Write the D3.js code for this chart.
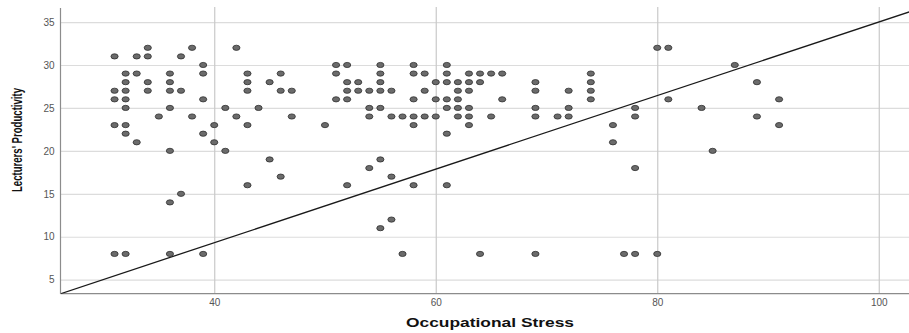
<!DOCTYPE html>
<html>
<head>
<meta charset="utf-8">
<script src="https://cdn.jsdelivr.net/npm/d3@7"></script>
<style>
  html, body { margin: 0; padding: 0; background: #ffffff; }
  svg { display: block; }
</style>
</head>
<body>
<svg id="chart" width="909" height="333"></svg>
<script>
// ---- data ----
const stress = [
  34,38,42,80,81,
  31,33,34,37,
  39,51,52,55,58,61,87,
  32,33,36,39,43,46,51,55,58,59,61,63,64,65,66,74,
  32,34,36,43,45,52,53,55,60,61,62,63,64,69,74,89,
  31,32,34,36,37,43,46,47,52,53,54,55,56,59,62,63,69,72,74,
  31,32,39,51,52,58,60,61,62,66,74,81,91,
  32,36,41,44,54,55,61,62,63,69,72,78,84,
  35,38,42,47,54,56,57,58,59,60,62,63,65,69,71,72,78,89,
  31,32,40,43,50,58,63,76,91,
  32,39,61,
  33,40,76,
  36,41,85,
  45,55,
  54,78,
  46,56,
  43,52,58,61,
  37,
  36,
  56,
  55,
  31,32,36,39,57,64,69,77,78,80
];
const productivity = [
  32,32,32,32,32,
  31,31,31,31,
  30,30,30,30,30,30,30,
  29,29,29,29,29,29,29,29,29,29,29,29,29,29,29,29,
  28,28,28,28,28,28,28,28,28,28,28,28,28,28,28,28,
  27,27,27,27,27,27,27,27,27,27,27,27,27,27,27,27,27,27,27,
  26,26,26,26,26,26,26,26,26,26,26,26,26,
  25,25,25,25,25,25,25,25,25,25,25,25,25,
  24,24,24,24,24,24,24,24,24,24,24,24,24,24,24,24,24,24,
  23,23,23,23,23,23,23,23,23,
  22,22,22,
  21,21,21,
  20,20,20,
  19,19,
  18,18,
  17,17,
  16,16,16,16,
  15,
  14,
  12,
  11,
  8,8,8,8,8,8,8,8,8,8
];
const xTicks = [40, 60, 80, 100];
const yTicks = [5, 10, 15, 20, 25, 30, 35];
const xDomain = [26.12, 103];
const yDomain = [3.37, 36.75];
const lineIntercept = -7.82;
const lineSlope = 0.4282;
const xTitle = "Occupational Stress";
const yTitle = "Lecturers' Productivity";

// ---- layout ----
const svg = d3.select("#chart");
const plotLeft = 60.5, plotRight = 912, plotTop = 7, plotBottom = 293.7;

const x = d3.scaleLinear().domain(xDomain).range([plotLeft, plotRight]);
const y = d3.scaleLinear().domain(yDomain).range([plotBottom, plotTop]);

svg.append("defs").append("clipPath").attr("id", "plotClip")
  .append("rect").attr("x", plotLeft).attr("y", plotTop - 2)
  .attr("width", 909 - plotLeft).attr("height", plotBottom - plotTop + 2);

// horizontal gridlines
const gy = svg.append("g")
  .attr("transform", `translate(${plotLeft},0)`)
  .call(d3.axisLeft(y).tickValues(yTicks).tickSize(-(909 - plotLeft)).tickFormat(""));
gy.select(".domain").remove();
gy.selectAll(".tick line").attr("stroke", "#dcdcdc").attr("stroke-width", 1.2);

// vertical gridlines
const gx = svg.append("g")
  .attr("transform", `translate(0,${plotBottom})`)
  .call(d3.axisBottom(x).tickValues(xTicks).tickSize(-(plotBottom - plotTop)).tickFormat(""));
gx.select(".domain").remove();
gx.selectAll(".tick line").attr("stroke", "#c9c9c9").attr("stroke-width", 1.2);

// axis lines
svg.append("line").attr("x1", plotLeft).attr("x2", plotLeft).attr("y1", plotTop + 1).attr("y2", plotBottom)
  .attr("stroke", "#8c8c8c").attr("stroke-width", 1.2);
svg.append("line").attr("x1", plotLeft).attr("x2", 909).attr("y1", plotBottom).attr("y2", plotBottom)
  .attr("stroke", "#8c8c8c").attr("stroke-width", 1.2);

// tick labels
const ay = svg.append("g").attr("transform", `translate(${plotLeft - 5},0)`)
  .call(d3.axisLeft(y).tickValues(yTicks).tickSize(0).tickPadding(1));
ay.select(".domain").remove();
ay.selectAll("text").attr("fill", "#555").attr("font-family", "Liberation Sans, Arial, sans-serif")
  .attr("font-size", "10px");

const ax = svg.append("g").attr("transform", `translate(0,${plotBottom + 4})`)
  .call(d3.axisBottom(x).tickValues(xTicks).tickSize(0).tickPadding(1));
ax.select(".domain").remove();
ax.selectAll("text").attr("fill", "#555").attr("font-family", "Liberation Sans, Arial, sans-serif")
  .attr("font-size", "10px");

// reference line
const xr = x.domain();
svg.append("line")
  .attr("clip-path", "url(#plotClip)")
  .attr("x1", x(xr[0])).attr("y1", y(lineIntercept + lineSlope * xr[0]))
  .attr("x2", x(xr[1])).attr("y2", y(lineIntercept + lineSlope * xr[1]))
  .attr("stroke", "#1a1a1a").attr("stroke-width", 1.3);

// points
const pts = stress.map((s, i) => ({ s, p: productivity[i] }));
svg.append("g").selectAll("ellipse").data(pts).join("ellipse")
  .attr("cx", d => x(d.s)).attr("cy", d => y(d.p))
  .attr("rx", 3.6).attr("ry", 2.6)
  .attr("fill", "#6b6b6b").attr("stroke", "#2e2e2e").attr("stroke-width", 0.8);

// titles
svg.append("text")
  .attr("x", 490).attr("y", 327)
  .attr("text-anchor", "middle")
  .attr("font-family", "Liberation Sans, Arial, sans-serif")
  .attr("font-weight", "bold").attr("font-size", "12.5px")
  .attr("fill", "#111")
  .attr("textLength", 168).attr("lengthAdjust", "spacingAndGlyphs")
  .text(xTitle);

svg.append("text")
  .attr("transform", "translate(22,140) rotate(-90)")
  .attr("text-anchor", "middle")
  .attr("font-family", "Liberation Sans Narrow, Arial Narrow, Liberation Sans, sans-serif")
  .attr("font-weight", "bold").attr("font-size", "14.5px")
  .attr("fill", "#111")
  .attr("textLength", 104).attr("lengthAdjust", "spacingAndGlyphs")
  .text(yTitle);
</script>
</body>
</html>
